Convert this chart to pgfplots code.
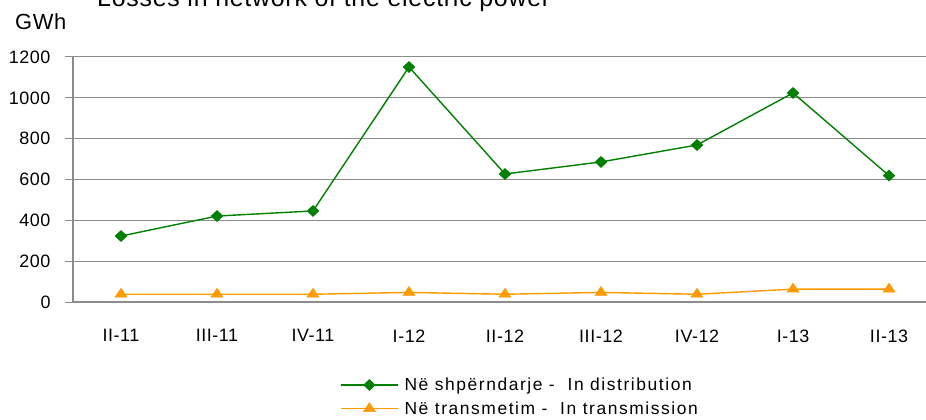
\documentclass[border=0pt]{standalone}
\usepackage{fontspec}
\setmainfont{Liberation Sans}
\newfontfamily\ticksfont[LetterSpace=3]{Liberation Sans}
\newfontfamily\titlefont[LetterSpace=3]{Liberation Sans}
\newfontfamily\legfont[LetterSpace=9]{Liberation Sans}
\usepackage{pgfplots}
\pgfplotsset{compat=1.18}
\definecolor{distGreen}{HTML}{008000}
\definecolor{transOrange}{HTML}{FF9900}
\definecolor{gridGray}{HTML}{8C8C8C}

\begin{document}
\begin{tikzpicture}[x=1bp,y=1bp]
\useasboundingbox (0,0) rectangle (926,419);
\node[anchor=base west, inner sep=0, font=\titlefont\fontsize{25}{29}\selectfont] at (97,412) {Losses in network of the electric power};
\node[anchor=base west, inner sep=0, font=\titlefont\fontsize{22}{26}\selectfont] at (15,389) {GWh};
\begin{axis}[
    at={(73bp,117bp)}, anchor=south west,
    scale only axis,
    width=864bp, height=245bp,
    xmin=-0.5, xmax=8.5,
    ymin=0, ymax=1200,
    xtick={0,...,8},
    xticklabels={II-11,III-11,IV-11,I-12,II-12,III-12,IV-12,I-13,II-13},
    ytick={0,200,...,1200},
    axis x line=bottom, axis y line=left,
    axis line style={gridGray, line width=1.2bp, -},
    ymajorgrids,
    grid style={gridGray, line width=1bp},
    tick align=outside,
    major tick length=8bp,
    x tick style={draw=none},
    y tick style={gridGray, line width=1bp},
    /pgf/number format/assume math mode=true,
    /pgf/number format/1000 sep={},
    tick label style={font=\ticksfont\fontsize{18}{21}\selectfont},
    yticklabel style={xshift=-11bp},
    xticklabel style={yshift=-16bp},
    clip=false,
    legend style={draw=none, fill=none, at={(0.309,-0.305)}, anchor=north west,
      font=\legfont\fontsize{17.5}{20}\selectfont, row sep=7.5bp, column sep=5bp,
      inner sep=0pt, nodes={inner sep=1bp}},
    legend cell align=left,
    legend image code/.code={
      \draw[mark repeat=2, mark phase=2, #1] plot coordinates {(0bp,0bp) (28.5bp,0bp) (57bp,0bp)};
    },
]
\addplot[distGreen, line width=1.4bp, mark=diamond*, mark size=6.5bp,
  mark options={solid, fill=distGreen, draw=distGreen, line width=0.5bp, xscale=1.2, yscale=0.85}]
  coordinates {(0,323) (1,421) (2,446) (3,1151) (4,627) (5,686) (6,769) (7,1024) (8,619)};
\addlegendentry{Në shpërndarje -\ \ In distribution}
\addplot[transOrange, line width=1.4bp, mark=triangle*, mark size=7bp,
  mark options={solid, fill=transOrange, draw=transOrange, line width=0.5bp, yscale=0.85}]
  coordinates {(0,38) (1,38) (2,38) (3,47) (4,38) (5,47) (6,38) (7,63) (8,63)};
\addlegendentry{Në transmetim -\ \ In transmission}
\end{axis}
\end{tikzpicture}
\end{document}
